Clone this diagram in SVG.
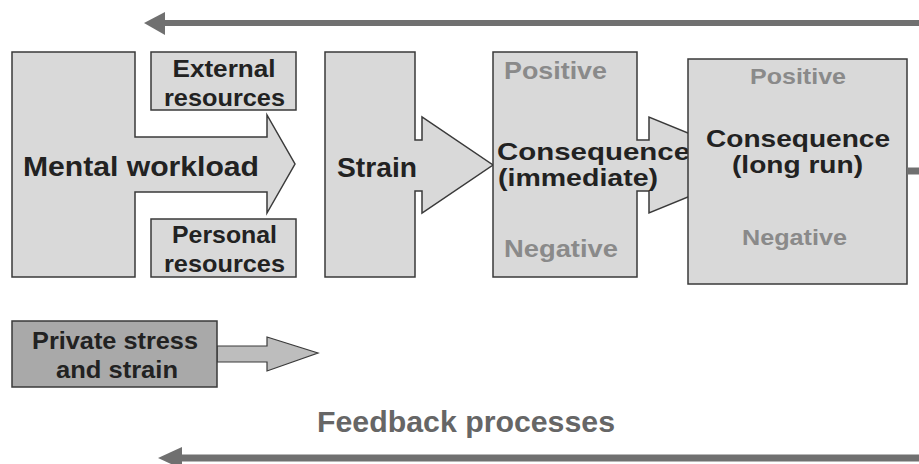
<svg xmlns="http://www.w3.org/2000/svg" width="919" height="464" viewBox="0 0 919 464">
<style>
.box{fill:#d9d9d9;stroke:#3a3a3a;stroke-width:1.5}
.dark{fill:#a9a9a9;stroke:#3a3a3a;stroke-width:1.5}
.arr{fill:#bdbdbd;stroke:#3a3a3a;stroke-width:1.2}
.t{font-family:"Liberation Sans",Arial,sans-serif;font-weight:bold;fill:#222}
.g{font-family:"Liberation Sans",Arial,sans-serif;font-weight:bold;fill:#8a8a8a}
.fb{stroke:#707070;fill:none}
.fh{fill:#707070}
</style>
<rect width="919" height="464" fill="#ffffff"/>
<g id="mental-workload">
<polygon class="box" points="12,52 135,52 135,137 267,137 267,115 295,164 267,213 267,192 135,192 135,277 12,277"/>
<text class="t" x="23" y="176" font-size="28" textLength="236" lengthAdjust="spacingAndGlyphs">Mental workload</text>
</g>
<g id="external-resources">
<rect class="box" x="151" y="52" width="145" height="58"/>
<text class="t" x="224" y="77" font-size="24" text-anchor="middle" textLength="103" lengthAdjust="spacingAndGlyphs">External</text>
<text class="t" x="224.5" y="106" font-size="24" text-anchor="middle" textLength="121" lengthAdjust="spacingAndGlyphs">resources</text>
</g>
<g id="personal-resources">
<rect class="box" x="151" y="219" width="145" height="58"/>
<text class="t" x="224.5" y="243" font-size="24" text-anchor="middle" textLength="105" lengthAdjust="spacingAndGlyphs">Personal</text>
<text class="t" x="224.5" y="272" font-size="24" text-anchor="middle" textLength="121" lengthAdjust="spacingAndGlyphs">resources</text>
</g>
<g id="strain">
<polygon class="box" points="325,52 415,52 415,140 422,140 422,117 493,165 422,213 422,191 415,191 415,277 325,277"/>
<text class="t" x="337" y="177" font-size="28" textLength="80" lengthAdjust="spacingAndGlyphs">Strain</text>
</g>
<g id="consequence-immediate">
<polygon class="box" points="493,52 637,52 637,140 649,140 649,117 766,165 649,213 649,191 637,191 637,277 493,277"/>
<text class="g" x="504" y="79" font-size="24" textLength="103" lengthAdjust="spacingAndGlyphs">Positive</text>
<text class="t" x="497" y="160" font-size="24" textLength="193" lengthAdjust="spacingAndGlyphs">Consequence</text>
<text class="t" x="498" y="186" font-size="24" textLength="160" lengthAdjust="spacingAndGlyphs">(immediate)</text>
<text class="g" x="504" y="257" font-size="24" textLength="114" lengthAdjust="spacingAndGlyphs">Negative</text>
</g>
<g id="consequence-long-run">
<rect class="box" x="688" y="59" width="219" height="225"/>
<text class="g" x="798" y="84" font-size="22" text-anchor="middle" textLength="96" lengthAdjust="spacingAndGlyphs">Positive</text>
<text class="t" x="798" y="147" font-size="24" text-anchor="middle" textLength="184" lengthAdjust="spacingAndGlyphs">Consequence</text>
<text class="t" x="797.5" y="173" font-size="24" text-anchor="middle" textLength="131" lengthAdjust="spacingAndGlyphs">(long run)</text>
<text class="g" x="794.5" y="245" font-size="22" text-anchor="middle" textLength="105" lengthAdjust="spacingAndGlyphs">Negative</text>
</g>
<g id="private-stress">
<polygon class="arr" points="217,346 267,346 267,337 318,353 267,371 267,362 217,362"/>
<rect class="dark" x="12" y="321" width="205" height="66"/>
<text class="t" x="115" y="349" font-size="24" text-anchor="middle" textLength="166" lengthAdjust="spacingAndGlyphs">Private stress</text>
<text class="t" x="117" y="378" font-size="24" text-anchor="middle" textLength="122" lengthAdjust="spacingAndGlyphs">and strain</text>
</g>
<g id="connectors">
<line class="fb" x1="919" y1="23" x2="162" y2="23" stroke-width="6"/>
<polygon class="fh" points="144,23 165,12 165,35"/>
<line class="fb" x1="907" y1="171" x2="919" y2="171" stroke-width="7"/>
<line class="fb" x1="919" y1="458" x2="178" y2="458" stroke-width="7"/>
<polygon class="fh" points="158,458 182,447 182,469"/>
<text x="317" y="432" font-family="Liberation Sans, Arial, sans-serif" font-weight="bold" font-size="30" fill="#666" textLength="298" lengthAdjust="spacingAndGlyphs">Feedback processes</text>
</g>
</svg>
